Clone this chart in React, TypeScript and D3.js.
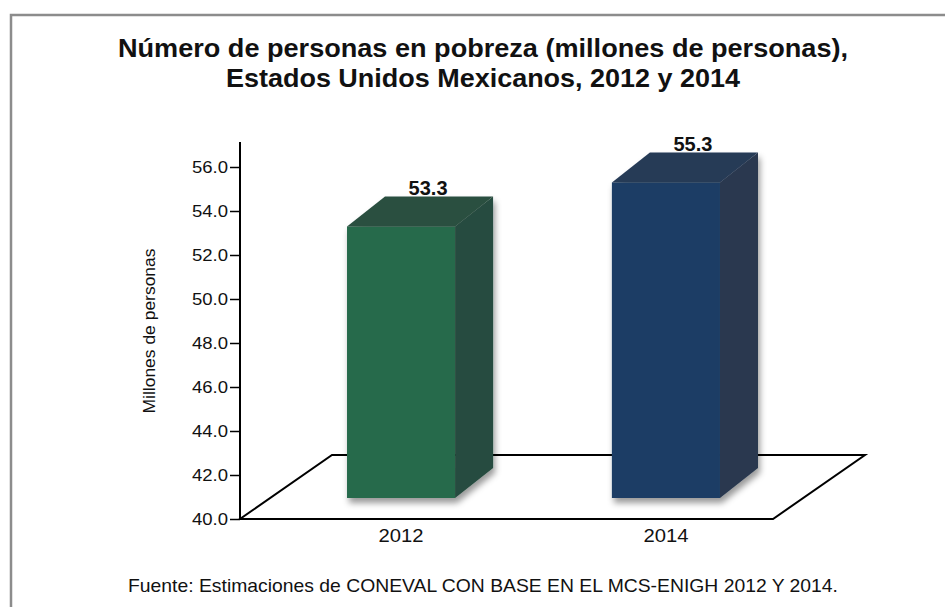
import React, {useEffect, useRef} from "react";
import * as d3 from "d3";

const WIDTH = 945;
const HEIGHT = 607;

const YEARS = ["2012", "2014"];
const POVERTY = [53.3, 55.3];
const Y_TICKS = [40, 42, 44, 46, 48, 50, 52, 54, 56];

const FRONT_COLORS = ["#286a4b", "#1f3e65"];
const SIDE_COLORS = ["#284b3f", "#29394f"];
const TOP_COLORS = ["#2a4f40", "#263a57"];

const TITLE_LINES = [
    "Número de personas en pobreza (millones de personas),",
    "Estados Unidos Mexicanos, 2012 y 2014",
];
const Y_LABEL = "Millones de personas";
const SOURCE = "Fuente: Estimaciones de CONEVAL CON BASE EN EL MCS-ENIGH 2012 Y 2014.";

const FONT = "'Liberation Sans', Arial, Helvetica, sans-serif";

// oblique "3d" look: floor depth and bar depth
const FLOOR_DX = 92;
const FLOOR_DY = -64;
const FLOOR_RIGHT = 773;
const BAR_DX = 38;
const BAR_DY = -30;
const BAR_LIFT = 21; // bars stand a bit behind the front edge of the floor

export default function App() {
    const ref = useRef<SVGSVGElement>(null);

    useEffect(() => {
        const svg = d3.select(ref.current);
        svg.selectAll("*").remove();

        const y = d3.scaleLinear().domain([40, 56]).range([519, 167]);
        const x = d3.scaleBand<string>()
            .domain(YEARS)
            .range([240, 827])
            .paddingInner(0.592)
            .paddingOuter(0.404);

        const defs = svg.append("defs");
        const shadow = defs.append("filter")
            .attr("id", "barShadow")
            .attr("x", "-20%").attr("y", "-20%")
            .attr("width", "150%").attr("height", "150%");
        shadow.append("feDropShadow")
            .attr("dx", 2).attr("dy", 5)
            .attr("stdDeviation", 3)
            .attr("flood-color", "#000")
            .attr("flood-opacity", 0.4);

        // frame
        svg.append("rect")
            .attr("x", 11).attr("y", 15)
            .attr("width", 960).attr("height", 620)
            .attr("fill", "#fff")
            .attr("stroke", "#8c8c8c")
            .attr("stroke-width", 2.5);

        // title
        svg.append("g")
            .selectAll("text")
            .data(TITLE_LINES)
            .enter()
            .append("text")
            .attr("x", 483)
            .attr("y", (d, i) => 57 + i * 30)
            .attr("text-anchor", "middle")
            .attr("font-family", FONT)
            .attr("font-weight", "bold")
            .attr("font-size", 25.5)
            .attr("textLength", (d, i) => (i === 0 ? 730 : 514))
            .attr("lengthAdjust", "spacingAndGlyphs")
            .attr("fill", "#111")
            .text(d => d);

        // floor
        const y0 = y(40);
        svg.append("path")
            .attr("d", `M${x.range()[0]},${y0} L${FLOOR_RIGHT},${y0} l${FLOOR_DX},${FLOOR_DY} L${x.range()[0] + FLOOR_DX},${y0 + FLOOR_DY} Z`)
            .attr("fill", "none")
            .attr("stroke", "#000")
            .attr("stroke-width", 2);

        // y axis
        const axis = svg.append("g")
            .attr("transform", `translate(${x.range()[0]},0)`)
            .call(d3.axisLeft(y).tickValues(Y_TICKS).tickFormat(d3.format(".1f")).tickSize(10).tickPadding(2));
        axis.select(".domain").remove();
        axis.selectAll(".tick line").attr("stroke", "#000").attr("stroke-width", 1.5);
        axis.selectAll(".tick text")
            .attr("font-family", FONT)
            .attr("font-size", 16)
            .attr("fill", "#111")
            .attr("textLength", 36)
            .attr("lengthAdjust", "spacingAndGlyphs");
        svg.append("line")
            .attr("x1", x.range()[0]).attr("x2", x.range()[0])
            .attr("y1", y0).attr("y2", 142)
            .attr("stroke", "#000")
            .attr("stroke-width", 2);

        svg.append("text")
            .attr("transform", `translate(155,331) rotate(-90)`)
            .attr("text-anchor", "middle")
            .attr("font-family", FONT)
            .attr("font-size", 16)
            .attr("textLength", 165)
            .attr("lengthAdjust", "spacingAndGlyphs")
            .attr("fill", "#111")
            .text(Y_LABEL);

        // bars
        const bars = svg.append("g")
            .selectAll("g")
            .data(YEARS)
            .enter()
            .append("g")
            .attr("filter", "url(#barShadow)");

        bars.each(function (year, i) {
            const g = d3.select(this);
            const x0 = x(year) as number;
            const w = x.bandwidth();
            const yb = y0 - BAR_LIFT;
            const yt = y(POVERTY[i]);

            g.append("rect")
                .attr("x", x0).attr("y", yt)
                .attr("width", w).attr("height", yb - yt)
                .attr("fill", FRONT_COLORS[i]);
            g.append("path")
                .attr("d", `M${x0 + w},${yt} l${BAR_DX},${BAR_DY} L${x0 + w + BAR_DX},${yb + BAR_DY} L${x0 + w},${yb} Z`)
                .attr("fill", SIDE_COLORS[i]);
            g.append("path")
                .attr("d", `M${x0},${yt} l${BAR_DX},${BAR_DY} h${w} L${x0 + w},${yt} Z`)
                .attr("fill", TOP_COLORS[i]);
        });

        // value labels
        svg.append("g")
            .selectAll("text")
            .data(YEARS)
            .enter()
            .append("text")
            .attr("x", d => (x(d) as number) + x.bandwidth() / 2 + 27)
            .attr("y", (d, i) => y(POVERTY[i]) + BAR_DY - 1)
            .attr("text-anchor", "middle")
            .attr("font-family", FONT)
            .attr("font-weight", "bold")
            .attr("font-size", 20)
            .attr("fill", "#111")
            .text((d, i) => POVERTY[i].toFixed(1));

        // category labels
        svg.append("g")
            .selectAll("text")
            .data(YEARS)
            .enter()
            .append("text")
            .attr("x", d => (x(d) as number) + x.bandwidth() / 2)
            .attr("y", 542)
            .attr("text-anchor", "middle")
            .attr("font-family", FONT)
            .attr("font-size", 19)
            .attr("textLength", 45)
            .attr("lengthAdjust", "spacingAndGlyphs")
            .attr("fill", "#111")
            .text(d => d);

        // source
        svg.append("text")
            .attr("x", 128)
            .attr("y", 592)
            .attr("font-family", FONT)
            .attr("font-size", 19)
            .attr("textLength", 710)
            .attr("lengthAdjust", "spacingAndGlyphs")
            .attr("fill", "#111")
            .text(SOURCE);
    }, []);

    return (
        <svg
            ref={ref}
            width={WIDTH}
            height={HEIGHT}
            style={{position: "absolute", left: 0, top: 0, background: "#fff"}}
        />
    );
}
